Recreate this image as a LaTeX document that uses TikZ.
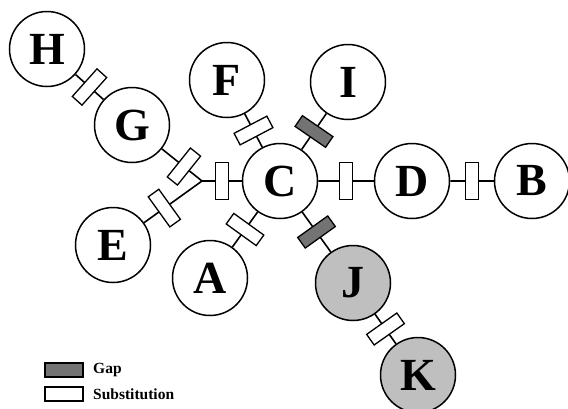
\documentclass[tikz,border=0pt]{standalone}
\usepackage{fontspec}
\setmainfont{Liberation Serif}
\begin{document}
\begin{tikzpicture}[x=1pt, y=-1pt,
hap/.style={circle, draw=black, line width=1.5pt, minimum size=75pt, inner sep=0pt, fill=white, font=\fontsize{46}{46}\selectfont\bfseries},
grey/.style={hap, fill=black!25},
subst/.style={draw=black, line width=1.3pt, fill=white, minimum width=13pt, minimum height=37pt, inner sep=0pt, sloped},
gap/.style={subst, fill=black!55},
key/.style={draw=black, line width=1.3pt, minimum width=38pt, minimum height=14pt, inner sep=0pt},
keytext/.style={anchor=west, inner sep=0pt, font=\fontsize{15.5}{16}\selectfont\bfseries}
]
  \useasboundingbox (0,0) rectangle (568,408);

  \node[hap] (H) at (47,49) {H};
  \node[hap] (G) at (132,125) {G};
  \node[hap] (F) at (227,80) {F};
  \node[hap] (I) at (348,82) {I};
  \node[hap] (C) at (280,181) {C};
  \node[hap] (D) at (412,181) {D};
  \node[hap] (B) at (532,181) {B};
  \node[hap] (E) at (113,245) {E};
  \node[hap] (A) at (210,278) {A};
  \node[grey] (J) at (353,283) {J};
  \node[grey] (K) at (418,375) {K};
  \coordinate (X) at (202,181);

  \draw[line width=1.6pt]
        (H) -- node[subst] {} (G)
        (G) -- node[subst, pos=0.55] {} (X)
        (E) -- node[subst, pos=0.35] {} (X)
        (X) -- node[subst] {} (C)
        (F) -- node[subst] {} (C)
        (I) -- node[gap] {} (C)
        (C) -- node[subst] {} (D)
        (D) -- node[subst] {} (B)
        (C) -- node[subst] {} (A)
        (C) -- node[gap] {} (J)
        (J) -- node[subst] {} (K);

  % legend
  \node[key, fill=black!55] (kgap) at (64,370) {};
  \node[key, fill=white] (ksub) at (64,394) {};
  \node[keytext] (tgap) at (93,370) {Gap};
  \node[keytext] (tsub) at (93,394) {Substitution};
\end{tikzpicture}
\end{document}
